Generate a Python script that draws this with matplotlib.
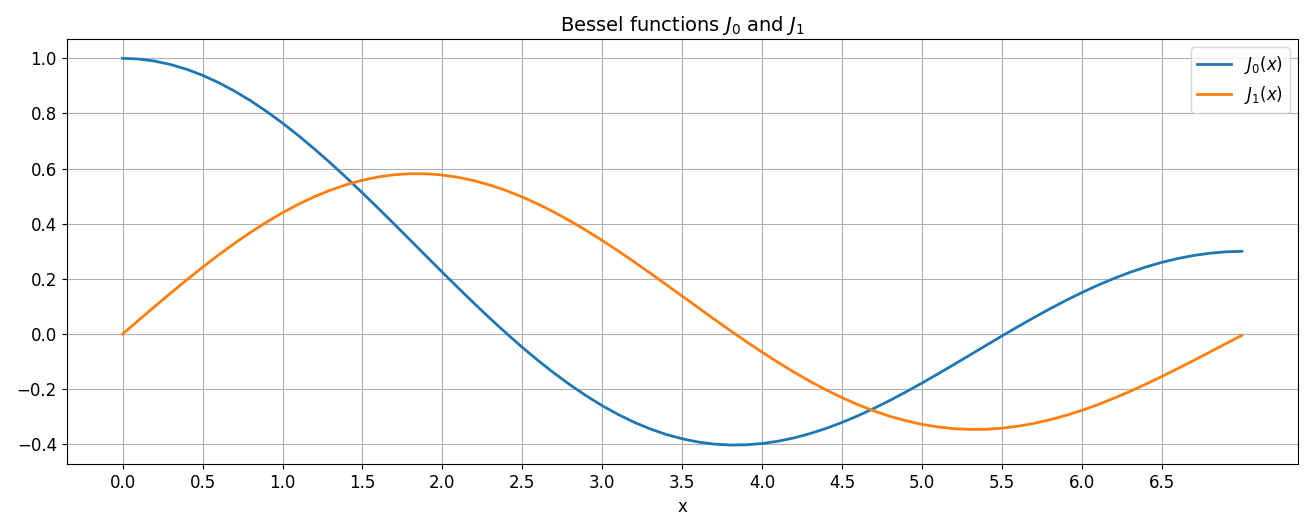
import matplotlib.pyplot as plt

# values, step 0.1
x = [i / 10 for i in range(71)]
j0 = [1.0000, 0.9975, 0.9900, 0.9776, 0.9604, 0.9385, 0.9120, 0.8812, 0.8463, 0.8075,
      0.7652, 0.7196, 0.6711, 0.6201, 0.5669, 0.5118, 0.4554, 0.3980, 0.3400, 0.2818,
      0.2239, 0.1666, 0.1104, 0.0555, 0.0025, -0.0484, -0.0968, -0.1424, -0.1850, -0.2243,
      -0.2601, -0.2921, -0.3202, -0.3443, -0.3643, -0.3801, -0.3918, -0.3992, -0.4026, -0.4018,
      -0.3971, -0.3887, -0.3766, -0.3610, -0.3423, -0.3205, -0.2961, -0.2693, -0.2404, -0.2097,
      -0.1776, -0.1443, -0.1103, -0.0758, -0.0412, -0.0068, 0.0270, 0.0599, 0.0917, 0.1220,
      0.1506, 0.1773, 0.2017, 0.2238, 0.2433, 0.2601, 0.2740, 0.2851, 0.2931, 0.2981,
      0.3001]
j1 = [0.0000, 0.0499, 0.0995, 0.1483, 0.1960, 0.2423, 0.2867, 0.3290, 0.3688, 0.4059,
      0.4401, 0.4709, 0.4983, 0.5220, 0.5419, 0.5579, 0.5699, 0.5778, 0.5815, 0.5812,
      0.5767, 0.5683, 0.5560, 0.5399, 0.5202, 0.4971, 0.4708, 0.4416, 0.4097, 0.3754,
      0.3391, 0.3009, 0.2613, 0.2207, 0.1792, 0.1374, 0.0955, 0.0538, 0.0128, -0.0272,
      -0.0660, -0.1033, -0.1386, -0.1719, -0.2028, -0.2311, -0.2566, -0.2791, -0.2985, -0.3147,
      -0.3276, -0.3371, -0.3432, -0.3460, -0.3453, -0.3414, -0.3343, -0.3241, -0.3110, -0.2951,
      -0.2767, -0.2559, -0.2329, -0.2081, -0.1816, -0.1538, -0.1250, -0.0953, -0.0652, -0.0349,
      -0.0047]
xticks = [0.0, 0.5, 1.0, 1.5, 2.0, 2.5, 3.0, 3.5, 4.0, 4.5, 5.0, 5.5, 6.0, 6.5]

fig, ax = plt.subplots(figsize=(13.07, 5.2), dpi=100)
ax.plot(x, j0, label="$J_0(x)$", linewidth=2)
ax.plot(x, j1, label="$J_1(x)$", linewidth=2)
ax.set_xticks(xticks)
ax.tick_params(labelsize=12)
ax.set_xlabel("x", fontsize=12)
ax.set_title("Bessel functions $J_0$ and $J_1$", fontsize=14)
ax.legend(fontsize=12)
ax.grid(True)
fig.subplots_adjust(left=0.051, right=0.993, top=0.925, bottom=0.107)
fig.savefig("out.png")
